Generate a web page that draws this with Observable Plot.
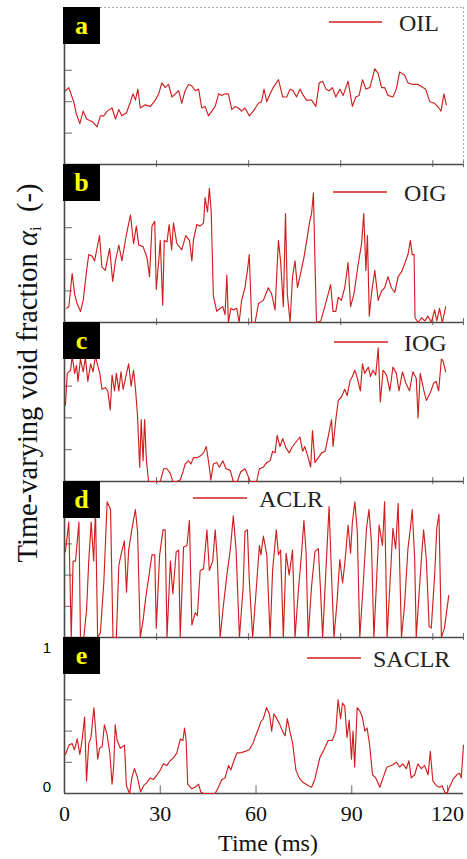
<!DOCTYPE html>
<html><head><meta charset="utf-8">
<script src="https://cdn.jsdelivr.net/npm/d3@7"></script>
<script src="https://cdn.jsdelivr.net/npm/@observablehq/plot@0.6"></script>
<style>
body{margin:0;background:#fff;}
#wrap{position:relative;width:467px;height:859px;overflow:hidden;font-family:"Liberation Serif",serif;}
#wrap svg{position:absolute;left:0;}
</style></head><body><div id="wrap"></div>
<script>
// ---- data ----
const panelLetters = ["a","b","c","d","e"];
const seriesNames = ["OIL","OIG","IOG","ACLR","SACLR"];
const xTickLabels = [0,30,60,90,120];
const yTickValues = [0.2,0.4,0.6,0.8];
const yEndLabels = [0,1];

const OIL = [[0.3,.47],[1.4,.49],[3.0,.40],[3.9,.32],[5.0,.26],[6.1,.34],[7.2,.29],[8.2,.28],[9.3,.27],[10.6,.24],[11.7,.31],[12.8,.31],[13.9,.34],[15.5,.36],[16.6,.29],[17.7,.35],[18.7,.31],[20.2,.33],[21.5,.40],[22.3,.45],[23.1,.41],[23.9,.48],[24.7,.36],[26.3,.38],[28.0,.37],[29.6,.41],[30.7,.45],[31.7,.52],[32.8,.49],[33.9,.51],[35.0,.43],[36.1,.45],[37.2,.47],[38.2,.39],[39.3,.47],[40.4,.51],[41.5,.50],[42.6,.47],[43.7,.48],[44.7,.36],[45.8,.37],[46.9,.31],[48.0,.34],[49.1,.37],[50.2,.45],[51.2,.44],[52.3,.45],[53.4,.45],[54.5,.35],[55.6,.37],[56.7,.36],[57.7,.34],[58.8,.36],[60.2,.31],[61.5,.34],[63.2,.39],[64.2,.40],[65.0,.48],[65.9,.40],[67.0,.45],[68.0,.49],[69.7,.54],[71.1,.43],[72.4,.43],[73.5,.48],[74.5,.47],[75.6,.43],[76.7,.48],[77.8,.44],[78.9,.41],[80.5,.41],[81.9,.37],[83.0,.52],[84.1,.53],[85.2,.48],[86.2,.47],[87.3,.49],[88.4,.43],[89.7,.48],[90.8,.44],[92.4,.53],[93.8,.37],[94.9,.43],[96.0,.44],[97.1,.54],[98.2,.48],[99.5,.49],[101.1,.61],[102.2,.58],[103.3,.49],[104.3,.49],[105.4,.44],[107.0,.43],[108.1,.48],[109.2,.59],[110.8,.57],[111.9,.52],[113.5,.51],[115.2,.51],[116.8,.49],[117.7,.48],[119.0,.40],[120.6,.39],[122.0,.36],[122.7,.34],[123.6,.45],[124.4,.38]];

const OIG = [[0.7,.09],[1.4,.10],[2.5,.31],[3.3,.18],[4.1,.12],[5.2,.07],[6.1,.14],[7.2,.33],[7.9,.43],[9.0,.42],[9.8,.39],[10.6,.47],[11.4,.55],[12.2,.35],[13.3,.33],[14.7,.47],[15.7,.26],[16.6,.39],[17.7,.49],[18.7,.39],[20.2,.56],[21.5,.68],[22.5,.50],[23.4,.61],[24.2,.49],[25.6,.48],[26.9,.41],[27.7,.29],[28.5,.61],[29.4,.64],[29.9,.21],[30.7,.39],[31.2,.52],[32.0,.11],[32.5,.52],[33.4,.51],[34.1,.62],[34.9,.46],[35.5,.63],[36.6,.50],[38.2,.46],[39.5,.55],[40.7,.52],[41.5,.39],[42.0,.52],[43.1,.62],[44.2,.61],[45.3,.63],[45.8,.79],[46.6,.70],[47.2,.85],[47.8,.70],[48.5,.17],[49.6,.07],[50.7,.09],[51.6,.10],[52.3,.05],[52.9,.30],[53.4,0],[54.2,.09],[55.0,.08],[56.1,.09],[56.9,0],[57.7,.14],[58.8,.22],[59.6,.33],[60.2,.43],[61.0,0],[62.1,0],[63.2,.12],[64.8,.14],[66.4,.22],[67.5,.18],[68.6,.08],[69.7,.52],[70.4,.39],[71.3,.10],[72.0,.69],[72.6,.18],[73.5,0],[74.3,.29],[75.1,.39],[75.9,.22],[76.7,.29],[78.0,.41],[79.1,.54],[79.9,.64],[80.5,.69],[81.1,.82],[81.6,.39],[82.1,0],[83.5,.01],[84.8,.10],[85.9,.18],[86.7,.24],[87.5,.07],[88.4,.07],[89.2,.16],[90.2,.14],[91.3,.22],[92.4,.38],[93.2,.10],[94.3,.18],[95.7,.37],[96.8,.50],[97.5,.69],[98.2,.33],[98.7,.55],[99.3,.04],[100.0,.18],[101.1,.33],[102.2,.14],[103.3,.20],[104.3,.22],[105.4,.29],[106.5,.22],[107.6,.19],[108.7,.29],[109.8,.32],[110.8,.37],[111.9,.43],[112.7,.52],[113.3,.43],[113.9,.43],[114.2,.03],[115.2,0],[116.3,.03],[117.4,.01],[118.4,.04],[119.5,0],[120.6,.08],[121.3,.01],[122.2,.09],[123.1,0],[124.2,.10]];

const IOG = [[0.3,.48],[0.9,.68],[2.0,.70],[2.5,.79],[3.3,.68],[3.9,.73],[4.4,.63],[5.2,.77],[6.1,.69],[6.8,.78],[7.6,.63],[8.5,.74],[9.3,.69],[10.1,.79],[10.8,.73],[11.5,.68],[12.2,.58],[13.3,.59],[14.1,.57],[14.9,.45],[15.5,.67],[16.3,.57],[16.9,.68],[17.7,.57],[18.4,.69],[19.1,.58],[20.2,.68],[20.9,.74],[21.7,.60],[22.5,.70],[23.1,.59],[23.8,.41],[24.5,.09],[25.0,.39],[25.6,.13],[26.1,.39],[26.7,.13],[27.4,0],[28.5,0],[31.2,0],[32.3,.08],[33.4,.08],[34.5,.05],[35.3,0],[36.6,0],[37.7,.01],[38.6,.06],[39.3,.11],[40.4,.13],[41.2,.11],[42.0,.15],[43.1,.15],[44.2,.16],[45.3,.18],[46.2,.22],[46.9,.13],[47.7,.01],[48.5,.11],[49.6,.12],[50.5,.09],[51.6,.13],[52.6,.08],[54.0,.07],[55.0,0],[56.3,0],[57.4,.06],[58.8,.08],[59.7,.04],[60.5,0],[62.6,0],[63.5,.08],[64.8,.09],[65.9,.12],[67.0,.13],[67.8,.19],[68.6,.18],[69.3,.29],[70.2,.22],[71.1,.27],[72.2,.21],[73.2,.18],[74.3,.22],[75.5,.25],[76.7,.28],[77.6,.19],[78.3,.22],[79.4,.15],[80.2,.09],[80.8,.32],[81.6,.12],[82.7,.15],[83.8,.18],[84.9,.19],[85.9,.28],[87.0,.39],[87.5,.22],[88.4,.39],[89.2,.51],[90.2,.53],[91.3,.58],[92.1,.54],[93.0,.63],[93.8,.66],[94.6,.70],[95.4,.65],[96.4,.57],[97.1,.74],[97.8,.68],[99.0,.72],[99.7,.66],[100.5,.70],[101.4,.67],[102.2,.84],[102.9,.50],[103.8,.70],[104.9,.67],[106.0,.57],[107.0,.72],[108.1,.68],[109.0,.57],[110.1,.69],[111.2,.62],[112.4,.57],[113.5,.69],[114.6,.65],[115.2,.40],[115.9,.68],[117.0,.58],[117.9,.51],[119.2,.56],[120.3,.62],[121.1,.63],[121.9,.57],[122.8,.77],[123.3,.76],[124.2,.69]];

const ACLR = [[0.3,.55],[1.4,.74],[2.2,0],[2.8,.49],[3.6,.49],[4.7,.74],[5.2,0],[6.3,0],[7.2,.18],[7.9,.49],[8.7,.74],[9.5,.49],[10.1,.82],[10.8,0],[11.7,.03],[12.8,.35],[13.9,.87],[15.0,.82],[15.8,0],[16.9,0],[17.7,.46],[18.4,.53],[19.5,.62],[20.2,.29],[20.9,.56],[22.0,.70],[23.1,.82],[23.8,.68],[24.7,0],[25.6,.11],[26.5,.26],[27.4,.38],[28.5,.53],[29.4,.53],[29.9,.06],[31.0,.53],[32.1,.69],[32.8,.69],[33.4,0],[34.5,.49],[35.3,.28],[36.4,.55],[37.2,.56],[37.7,0],[38.8,.58],[39.9,.59],[40.7,.75],[41.5,.08],[42.6,.16],[43.3,.14],[44.2,.43],[45.3,.44],[46.4,.69],[47.2,.43],[48.3,.49],[49.1,.69],[49.8,.50],[50.7,0],[51.8,.21],[52.9,.40],[54.0,.56],[55.0,.78],[55.9,.56],[57.0,0],[58.2,.32],[58.8,.68],[59.6,.69],[60.2,.37],[61.3,0],[62.4,.29],[63.5,.59],[64.0,.53],[64.8,.65],[65.9,.53],[67.0,0],[67.8,.43],[69.0,.69],[69.7,.53],[70.4,.56],[71.3,0],[72.2,.54],[73.2,.40],[74.3,.56],[75.1,0],[76.2,.30],[77.2,.53],[78.0,.75],[78.7,.55],[79.4,0],[80.5,.33],[81.6,.55],[82.7,.57],[83.4,.31],[84.1,0],[85.2,.44],[86.2,.84],[87.0,.40],[87.8,0],[88.8,.23],[89.7,.50],[90.6,.35],[91.3,.47],[92.4,.72],[93.2,.54],[93.8,.74],[94.6,.87],[95.4,.68],[96.2,0],[97.3,.33],[98.4,.70],[99.2,.82],[100.0,.61],[100.8,0],[101.6,.33],[102.5,.72],[103.6,.59],[104.3,.87],[105.1,0],[106.0,.33],[107.0,.70],[107.9,.57],[108.7,.86],[109.8,0],[110.8,.21],[111.9,.57],[112.7,.70],[113.3,.82],[114.1,.50],[114.6,0],[115.5,.27],[116.3,.51],[117.0,.69],[117.9,.50],[118.8,.07],[119.5,.06],[120.6,.40],[121.3,.70],[122.0,.79],[122.8,0],[123.8,.06],[125.2,.27]];

const SACLR = [[0.3,.25],[1.4,.31],[2.4,.32],[3.1,.28],[4.0,.35],[4.8,.25],[5.5,.34],[6.3,.49],[6.9,.08],[7.6,.32],[8.3,.36],[9.2,.55],[9.7,.42],[10.4,.22],[11.0,.29],[11.8,.30],[12.5,.44],[13.3,.38],[14.2,.26],[14.9,.06],[15.4,.17],[15.9,.44],[16.5,.34],[17.5,.29],[18.8,.31],[19.4,.05],[20.4,0],[21.1,.10],[21.9,.16],[22.9,.10],[23.8,.01],[24.8,.05],[25.8,.07],[26.9,.10],[27.9,.09],[29.0,.12],[30.0,.15],[31.0,.19],[32.1,.18],[33.1,.21],[34.2,.23],[35.2,.26],[36.3,.35],[37.1,.34],[37.6,.42],[38.1,.34],[38.6,.06],[39.9,.03],[40.9,.04],[42.0,.06],[42.7,.01],[43.5,0],[47.2,0],[48.2,.04],[49.3,.09],[50.3,.10],[51.4,.18],[52.1,.15],[52.9,.20],[54.0,.26],[55.0,.26],[56.6,.27],[57.9,.28],[59.0,.32],[59.7,.36],[60.7,.41],[61.5,.46],[62.3,.48],[63.3,.55],[64.2,.51],[64.9,.40],[65.6,.51],[66.5,.48],[67.5,.44],[68.3,.40],[69.1,.37],[69.8,.48],[70.6,.40],[71.5,.32],[72.5,.15],[73.5,.10],[74.8,.07],[76.4,.05],[77.4,.04],[78.4,.09],[80.0,.23],[81.3,.28],[82.6,.34],[83.9,.34],[85.0,.40],[85.7,.60],[86.5,.48],[87.1,.58],[87.8,.56],[88.5,.36],[89.2,.47],[89.9,.22],[90.4,.40],[90.9,.17],[91.7,.55],[92.5,.53],[93.3,.49],[94.1,.40],[94.8,.42],[95.6,.31],[96.5,.12],[97.5,.10],[98.8,.04],[99.8,.10],[101.0,.17],[102.4,.18],[104.0,.20],[105.0,.17],[106.0,.19],[107.1,.16],[107.9,.21],[108.6,.10],[109.7,.12],[110.7,.19],[111.8,.16],[112.8,.18],[113.9,.12],[114.6,.27],[115.4,.08],[116.5,.05],[117.5,.04],[118.3,.05],[119.1,.01],[119.8,0],[120.6,.04],[121.7,.09],[122.9,.12],[123.8,.13],[124.3,.10],[125.0,.31]];

const seriesData = [OIL, OIG, IOG, ACLR, SACLR];

// ---- layout (pixels) ----
const W = 467, ML = 64, MR = 4;
const layout = [
  {top:7,   bottom:164, xMax:130, leg:{x1:329, x2:382, y:22,  tx:399, ty:31}},
  {top:164, bottom:322, xMax:130, leg:{x1:333, x2:387, y:192, tx:404, ty:201}},
  {top:322, bottom:481, xMax:130, leg:{x1:334, x2:388, y:342, tx:404, ty:351}},
  {top:481, bottom:637, xMax:130, leg:{x1:193, x2:247, y:498, tx:259, ty:507}},
  {top:637, bottom:793, xMax:125, leg:{x1:307, x2:361, y:658, tx:373, ty:667}}
];
const RED = "#cf1f1f", AXIS = "#4a4a4a", TICK = "#6a6a6a";
const wrap = document.getElementById("wrap");

layout.forEach((L, i) => {
  const last = i === layout.length - 1;
  const mt = 10, mb = last ? 60 : 10;
  const h = L.bottom - L.top;
  const pxPerMs = (W - ML - MR) / L.xMax;
  const tickMs = 8 / pxPerMs;
  const data = seriesData[i].map(([t, v]) => ({t, v}));
  const xTickMarks = last ? xTickLabels.slice(1) : [...xTickLabels.slice(1), L.xMax];
  const marks = [
    Plot.ruleY(yTickValues, {x1: 0, x2: tickMs, stroke: TICK, strokeWidth: 1}),
    Plot.ruleX(xTickMarks, {y1: last ? 0 : -0.02, y2: last ? 0.05 : 0.025, stroke: TICK, strokeWidth: 1}),
    Plot.ruleY([0], {stroke: AXIS, strokeWidth: 1.6}),
    Plot.ruleX([0], {stroke: AXIS, strokeWidth: 1.6})
  ];
  if (i === 0) {
    marks.push(Plot.ruleY([1], {stroke: "#aaa", strokeDasharray: "2,2", strokeWidth: 1}));
    marks.push(Plot.ruleX([L.xMax], {stroke: "#aaa", strokeDasharray: "2,2", strokeWidth: 1}));
  }
  marks.push(Plot.line(data, {x: "t", y: "v", stroke: RED, strokeWidth: 1.15}));
  if (last) {
    marks.push(Plot.text(xTickLabels, {x: d => d, frameAnchor: "bottom", dy: 27, fontSize: 22, fill: "#111", fontFamily: "Liberation Serif"}));
  }
  const svg = Plot.plot({
    width: W, height: h + mt + mb,
    marginLeft: ML, marginRight: MR, marginTop: mt, marginBottom: mb,
    x: {domain: [0, L.xMax], axis: null},
    y: {domain: [0, 1], axis: null},
    style: {background: "transparent", overflow: "visible", fontFamily: "Liberation Serif"},
    marks
  });
  svg.style.top = (L.top - mt) + "px";
  wrap.appendChild(svg);
});

// ---- overlay: panel letters, legends, titles ----
const ov = d3.select(wrap).append("svg")
  .attr("width", W).attr("height", 859)
  .style("top", "0px").style("pointer-events", "none")
  .style("font-family", "'Liberation Serif', serif");

layout.forEach((L, i) => {
  ov.append("rect").attr("x", 63).attr("y", L.top).attr("width", 37).attr("height", 37).attr("fill", "#000");
  ov.append("text").attr("x", 81.5).attr("y", L.top + 27).attr("text-anchor", "middle")
    .attr("font-size", 26).attr("font-weight", "bold").attr("fill", "#ffff00").text(panelLetters[i]);
  ov.append("line").attr("x1", L.leg.x1).attr("x2", L.leg.x2).attr("y1", L.leg.y).attr("y2", L.leg.y)
    .attr("stroke", RED).attr("stroke-width", 1.3);
  ov.append("text").attr("x", L.leg.tx).attr("y", L.leg.ty).attr("font-size", 24).attr("fill", "#222")
    .text(seriesNames[i]);
});

// y end labels on panel e
const E = layout[4];
ov.append("text").attr("x", 47).attr("y", E.top + 16).attr("text-anchor", "middle")
  .attr("font-family", "'Liberation Sans', Arial, sans-serif").attr("font-size", 15).text(String(yEndLabels[1]));
ov.append("text").attr("x", 47).attr("y", E.bottom - 1).attr("text-anchor", "middle")
  .attr("font-family", "'Liberation Sans', Arial, sans-serif").attr("font-size", 15).text(String(yEndLabels[0]));

// x title
ov.append("text").attr("x", 268).attr("y", 851).attr("text-anchor", "middle").attr("font-size", 24)
  .attr("fill", "#111").text("Time (ms)");

// y title
const yt = ov.append("text").attr("transform", "translate(37,373) rotate(-90)")
  .attr("text-anchor", "middle").attr("font-size", 28.5).attr("fill", "#111");
yt.append("tspan").text("Time-varying void fraction ");
yt.append("tspan").attr("font-style", "italic").text("α");
yt.append("tspan").attr("font-size", 17).attr("dy", 4).text("i");
yt.append("tspan").attr("dy", -4).attr("xml:space", "preserve").text("\u00a0\u00a0(-)");
</script></body></html>
